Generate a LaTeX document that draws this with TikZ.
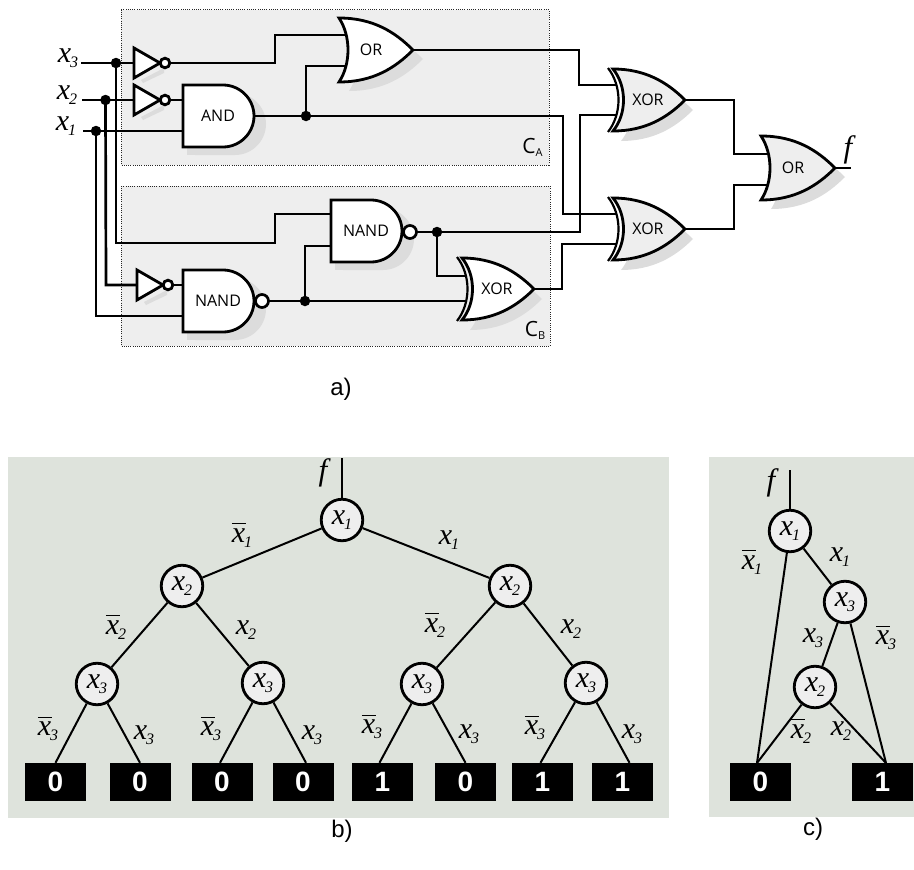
\documentclass[tikz,border=0pt]{standalone}
\usepackage{fontspec}
\setmainfont{Liberation Serif}
\newfontfamily\gatefont{Open Sans}
\newfontfamily\capfont{Liberation Sans}
\usetikzlibrary{calc}
\definecolor{panelc}{HTML}{DEE3DC}
\definecolor{boxc}{HTML}{EEEEEE}
\definecolor{shadowc}{HTML}{DCDCDC}
\newcommand{\sx}[1]{{\itshape\fontsize{30}{30}\selectfont x\kern-1pt\raisebox{-5pt}{\fontsize{16}{16}\selectfont #1}}}
\newcommand{\bx}[1]{{\itshape\fontsize{30}{30}\selectfont\rlap{\raisebox{18pt}{\rule{14.5pt}{1pt}}}x\kern-1pt\raisebox{-5pt}{\fontsize{16}{16}\selectfont #1}}}
\newcommand{\orpath}[2]{(#1-74,#2-32) .. controls (#1-40,#2-32) and (#1-18,#2-18) .. (#1,#2) .. controls (#1-18,#2+18) and (#1-40,#2+32) .. (#1-74,#2+32) .. controls (#1-62,#2+14) and (#1-62,#2-14) .. cycle}
\newcommand{\xorpath}[2]{(#1-72,#2-31) .. controls (#1-40,#2-31) and (#1-18,#2-18) .. (#1,#2) .. controls (#1-18,#2+18) and (#1-40,#2+31) .. (#1-72,#2+31) .. controls (#1-58,#2+14) and (#1-58,#2-14) .. cycle}
\newcommand{\andpath}[2]{(#1,#2-31) -- (#1+40,#2-31) .. controls (#1+57,#2-31) and (#1+71,#2-17) .. (#1+71,#2) .. controls (#1+71,#2+17) and (#1+57,#2+31) .. (#1+40,#2+31) -- (#1,#2+31) -- cycle}
% shadows
\newcommand{\orshadow}[2]{\fill[shadowc] \orpath{#1+10}{#2+9};}
\newcommand{\xorshadow}[2]{\fill[shadowc] \xorpath{#1+8}{#2+10};}
\newcommand{\andshadow}[2]{\fill[shadowc] \andpath{#1+12}{#2+8};\fill[shadowc] (#1+4,#2+31) rectangle (#1+30,#2+39);}
\newcommand{\invshadow}[2]{\fill[shadowc] (#1+7,#2+17) -- (#1+30,#2+5) -- (#1+30,#2+10) -- (#1+9,#2+20) -- cycle;}
% gates
\newcommand{\orgate}[5]{%
  \draw[gateline,fill=#4] \orpath{#2}{#3};
  \node[gatetext] (#1) at (#2-42,#3) {#5};}
\newcommand{\xorgate}[5]{%
  \draw[gateline,fill=#4] \xorpath{#2}{#3};
  \draw[gateline,line width=2.2pt] (#2-77,#3-32) .. controls (#2-63,#3-14) and (#2-63,#3+14) .. (#2-77,#3+32);
  \node[gatetext] (#1) at (#2-37,#3) {#5};}
\newcommand{\andgate}[5]{%
  \draw[gateline,fill=#4] \andpath{#2}{#3};
  \node[gatetext] (#1) at (#2+35,#3) {#5};}
\newcommand{\invgate}[2]{%
  \draw[gateline,fill=white] (#1,#2-15) -- (#1,#2+15) -- (#1+26,#2) -- cycle;
  \draw[gateline,fill=white] (#1+31,#2) circle (4.8pt);}
\tikzset{
  x=1pt,y=-1pt,
  wire/.style={line width=2.7pt,line cap=rect,line join=miter},
  gateline/.style={line width=2.8pt,line join=miter},
  gatetext/.style={font=\gatefont\fontsize{16}{16}\selectfont,inner sep=0pt},
  dot/.style={circle,fill=black,inner sep=0pt,minimum size=10.5pt},
  regionbox/.style={draw=black!85,dash pattern=on .9pt off 1.3pt,line width=.9pt,fill=boxc},
  bubble/.style={circle,draw=black,line width=2.7pt,fill=white,inner sep=0pt,minimum size=13pt},
  panel/.style={fill=panelc,draw=none},
  bdd/.style={circle,draw=black,line width=2.8pt,fill=boxc,inner sep=0pt,minimum size=41.5pt},
  leaf/.style={fill=black,text=white,inner sep=0pt,minimum width=61pt,minimum height=38pt,font=\capfont\bfseries\fontsize{28}{28}\selectfont},
  edge/.style={line width=2pt},
  lab/.style={inner sep=0pt},
  caption/.style={font=\capfont\fontsize{24}{24}\selectfont,inner sep=0pt},
  regionlab/.style={font=\gatefont\fontsize{21}{21}\selectfont,inner sep=0pt},
}
\begin{document}
\begin{tikzpicture}
\useasboundingbox (0,0) rectangle (914,870);
% region boxes
\draw[regionbox] (121,9.5) rectangle (549,165);
\draw[regionbox] (121,186) rectangle (550,346);
\node[regionlab] (ca) at (532.5,147) {C\raisebox{-3pt}{\fontsize{11}{11}\selectfont A}};
\node[regionlab] (cb) at (535,330) {C\raisebox{-3pt}{\fontsize{11}{11}\selectfont B}};
% shadows
\invshadow{134}{63}
\invshadow{134}{100}
\invshadow{137}{285}
\orshadow{413}{50}
\andshadow{183}{116}
\andshadow{331}{231}
\andshadow{183}{301}
\xorshadow{534}{289}
\xorshadow{685}{100}
\xorshadow{685}{229}
\orshadow{835}{168}
% input labels and points
\node[lab] (lx3) at (68,58) {\sx{3}};
\node[lab] (lx2) at (67,95) {\sx{2}};
\node[lab] (lx1) at (66,126) {\sx{1}};
\coordinate (i3) at (82,63);
\coordinate (i2) at (83,100);
\coordinate (i1) at (84,131);
\node[dot] (d3) at (116,63) {};
\node[dot] (d2) at (105.5,100) {};
\node[dot] (d1) at (96,131) {};
\node[dot] (d4) at (306,116) {};
\node[dot] (d5) at (437,232) {};
\node[dot] (d6) at (305,301) {};
% wires
\draw[wire] (i3) -- (134,63);
\draw[wire] (170,63) -- (275,63) -- (275,35) -- (350,35);
\draw[wire] (i2) -- (134,100);
\draw[wire] (170,100) -- (183,100);
\draw[wire] (i1) -- (183,131);
\draw[wire] (d4) -- (306,66) -- (348,66);
\draw[wire] (254,116) -- (d4) -- (563,116) -- (563,214) -- (615,214);
\draw[wire] (d1) -- (96,316) -- (183,316);
\draw[wire] (d2) -- (106,285) -- (137,285);
\draw[wire] (d3) -- (116,243) -- (275,243) -- (275,214) -- (331,214);
\draw[wire] (172,285) -- (183,285);
\draw[wire] (270,301) -- (d6) -- (466,301);
\draw[wire] (d6) -- (305,246) -- (331,246);
\draw[wire] (417,232) -- (d5) -- (580,232) -- (580,115) -- (615,115);
\draw[wire] (d5) -- (437,276) -- (466,276);
\draw[wire] (534,289) -- (562,289) -- (562,244) -- (615,244);
\draw[wire] (413,50) -- (579,50) -- (579,85) -- (615,85);
\draw[wire] (685,100) -- (734,100) -- (734,154) -- (768,154);
\draw[wire] (685,229) -- (734,229) -- (734,185) -- (768,185);
\draw[wire] (835,168) -- (850,168);
% gates
\invgate{134}{63}
\invgate{134}{100}
\invgate{137}{285}
\orgate{g1}{413}{50}{white}{OR}
\andgate{g2}{183}{116}{white}{AND}
\andgate{g3}{331}{231}{white}{NAND}
\andgate{g4}{183}{301}{white}{NAND}
\node[bubble] (b3) at (410,232) {};
\node[bubble] (b4) at (262,301) {};
\xorgate{g5}{534}{289}{white}{XOR}
\xorgate{g6}{685}{100}{boxc}{XOR}
\xorgate{g7}{685}{229}{boxc}{XOR}
\orgate{g8}{835}{168}{boxc}{OR}
\node[lab,font=\itshape\fontsize{31}{31}\selectfont] (lf) at (848,150) {f};
\node[caption] (capa) at (341,389) {a)};
% panels
\fill[panel] (8,457) rectangle (669,818);
\fill[panel] (709,457) rectangle (914,817);
% tree b
\coordinate (ftop) at (342,458);
\coordinate (fctop) at (790,470);
\node[bdd] (r) at (342,520) {\sx{1}};
\node[bdd] (a) at (182,586) {\sx{2}};
\node[bdd] (b) at (510,586) {\sx{2}};
\node[bdd] (aa) at (97,684) {\sx{3}};
\node[bdd] (ab) at (263,683) {\sx{3}};
\node[bdd] (ba) at (422,684) {\sx{3}};
\node[bdd] (bb) at (586,683) {\sx{3}};
\node[leaf] (l1) at (55.5,782) {0};
\node[leaf] (l2) at (140,782) {0};
\node[leaf] (l3) at (222,782) {0};
\node[leaf] (l4) at (303,782) {0};
\node[leaf] (l5) at (382.5,782) {1};
\node[leaf] (l6) at (465.5,782) {0};
\node[leaf] (l7) at (542.5,782) {1};
\node[leaf] (l8) at (622.5,782) {1};
\draw[edge] (ftop) -- (r);
\draw[edge] (r) -- (a);
\draw[edge] (r) -- (b);
\draw[edge] (a) -- (aa);
\draw[edge] (a) -- (ab);
\draw[edge] (b) -- (ba);
\draw[edge] (b) -- (bb);
\draw[edge] (aa) -- (l1.north);
\draw[edge] (aa) -- (l2.north);
\draw[edge] (ab) -- ($(l3.north)+(-2,0)$);
\draw[edge] (ab) -- ($(l4.north)+(3,0)$);
\draw[edge] (ba) -- ($(l5.north)+(-3,0)$);
\draw[edge] (ba) -- (l6.north);
\draw[edge] (bb) -- ($(l7.north)+(-2,0)$);
\draw[edge] (bb) -- ($(l8.north)+(7,0)$);
\node[lab,font=\itshape\fontsize{31}{31}\selectfont] (tf) at (323,473) {f};
\node[lab] at (242,535) {\bx{1}};
\node[lab] at (449,540) {\sx{1}};
\node[lab] at (116,627) {\bx{2}};
\node[lab] at (246,630) {\sx{2}};
\node[lab] at (435,625) {\bx{2}};
\node[lab] at (571,629) {\sx{2}};
\node[lab] at (48,729) {\bx{3}};
\node[lab] at (144,735) {\sx{3}};
\node[lab] at (211,729) {\bx{3}};
\node[lab] at (312,735) {\sx{3}};
\node[lab] at (372,727) {\bx{3}};
\node[lab] at (469,734) {\sx{3}};
\node[lab] at (535,728) {\bx{3}};
\node[lab] at (632,734) {\sx{3}};
% tree c
\node[bdd] (cr) at (790,531) {\sx{1}};
\node[bdd] (c3) at (845,602) {\sx{3}};
\node[bdd] (c2) at (815,687) {\sx{2}};
\node[leaf] (c0) at (760.5,782) {0};
\node[leaf] (c1) at (882.5,782) {1};
\coordinate (c0t) at (757,763);
\coordinate (c1t) at (886,763);
\draw[edge] (fctop) -- (cr);
\draw[edge] (cr) -- (c0t);
\draw[edge] (cr) -- (c3);
\draw[edge] (c3) -- (c2);
\draw[edge] (c3) -- (c1t);
\draw[edge] (c2) -- (c0t);
\draw[edge] (c2) -- (c1t);
\node[lab,font=\itshape\fontsize{31}{31}\selectfont] (ctf) at (771,483) {f};
\node[lab] at (752,562) {\bx{1}};
\node[lab] at (840,557) {\sx{1}};
\node[lab] at (813,638) {\sx{3}};
\node[lab] at (886,638) {\bx{3}};
\node[lab] at (801,731) {\bx{2}};
\node[lab] at (841,731) {\sx{2}};
\node[caption] (capb) at (342,831) {b)};
\node[caption] (capc) at (813,829) {c)};
\end{tikzpicture}
\end{document}
